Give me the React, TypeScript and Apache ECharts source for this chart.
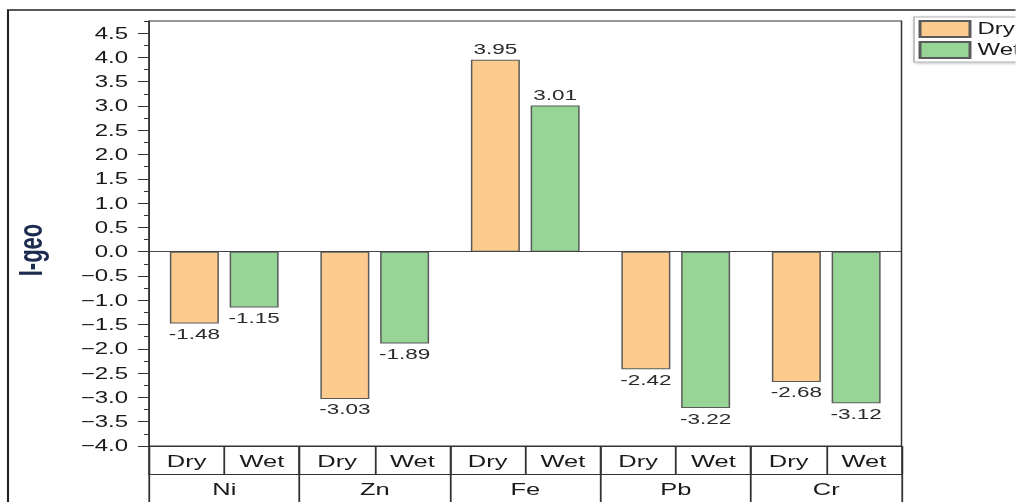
import React, { useEffect, useRef } from 'react';
import * as echarts from 'echarts';

// The reference picture is stretched horizontally; the chart is drawn at native
// width and widened with a CSS scaleX so that texts keep their stretched look.
const S = 1.5;
const W = 1016 / S;
const H = 502;

const elements = ['Ni', 'Zn', 'Fe', 'Pb', 'Cr'];
const seasons = ['Dry', 'Wet'];
const dryValues = [-1.48, -3.03, 3.95, -2.42, -2.68];
const wetValues = [-1.15, -1.89, 3.01, -3.22, -3.12];
const yTickValues = [-4, -3.5, -3, -2.5, -2, -1.5, -1, -0.5, 0, 0.5, 1, 1.5, 2, 2.5, 3, 3.5, 4, 4.5];
const yMin = -4;
const yMax = 4.75;
const yName = 'I-geo';

const FONT = '"Liberation Sans", Arial, sans-serif';
const LINE = '#333';
const TEXT = '#1a1a1a';

export default function App() {
  const ref = useRef<HTMLDivElement>(null);

  useEffect(() => {
    const chart = echarts.init(ref.current as HTMLDivElement, null, { renderer: 'svg' });
    const subCats = elements.flatMap(() => seasons);
    const toItems = (vals: number[]) =>
      vals.map((v) => ({ value: v, label: { position: v < 0 ? 'bottom' : 'top' } }));
    const gridLeft = 149 / S;
    const gridRight = W - 902 / S;

    chart.setOption({
      animation: false,
      textStyle: { fontFamily: FONT },
      grid: {
        left: gridLeft,
        right: gridRight,
        top: 21,
        bottom: 56,
        show: true,
        borderColor: LINE,
        borderWidth: 1,
        backgroundColor: 'transparent',
      },
      legend: {
        show: true,
        orient: 'vertical',
        left: 914 / S,
        top: 17,
        itemWidth: 50 / S,
        itemHeight: 16,
        itemGap: 3,
        padding: [3, 3, 3, 3],
        borderColor: '#b0b0b0',
        borderWidth: 1,
        backgroundColor: '#fff',
        shadowBlur: 3,
        shadowColor: 'rgba(0,0,0,0.25)',
        shadowOffsetX: 1,
        shadowOffsetY: 1,
        icon: 'rect',
        textStyle: { fontSize: 16, color: TEXT, fontFamily: FONT },
        data: seasons,
      },
      xAxis: [
        {
          type: 'category',
          data: elements,
          position: 'bottom',
          axisLine: { show: true, onZero: false, lineStyle: { color: LINE, width: 1 } },
          axisTick: { show: true, interval: 0, length: 70, lineStyle: { color: LINE, width: 1.2 } },
          axisLabel: { interval: 0, margin: 35, fontSize: 17, color: TEXT, fontFamily: FONT },
          splitLine: { show: false },
        },
        {
          type: 'category',
          data: subCats,
          position: 'bottom',
          axisLine: { show: false, onZero: false },
          axisTick: { show: true, interval: 0, length: 28, lineStyle: { color: LINE, width: 1.2 } },
          axisLabel: { interval: 0, margin: 7, fontSize: 17, color: TEXT, fontFamily: FONT },
          splitLine: { show: false },
        },
        {
          type: 'category',
          data: subCats,
          position: 'bottom',
          offset: 28,
          axisLine: { show: true, onZero: false, lineStyle: { color: LINE, width: 1 } },
          axisTick: { show: false },
          axisLabel: { show: false },
          splitLine: { show: false },
        },
      ],
      yAxis: [
        {
          type: 'value',
          min: yMin,
          max: yMax,
          interval: 0.5,
          position: 'left',
          axisLine: { show: true, onZero: false, lineStyle: { color: LINE, width: 1 } },
          axisTick: {
            show: true,
            length: 11 / S,
            customValues: yTickValues,
            lineStyle: { color: LINE, width: 1 },
          },
          axisLabel: {
            customValues: yTickValues,
            margin: 14,
            fontSize: 16,
            color: TEXT,
            fontFamily: FONT,
            formatter: (v: number) =>
              v > 4.6 ? '' : (v < 0 ? '\u2212' : '') + Math.abs(v).toFixed(1),
          },
          splitLine: { show: false },
        },
        {
          type: 'value',
          min: yMin,
          max: yMax,
          interval: 0.25,
          position: 'left',
          axisLine: { show: false },
          axisTick: { show: true, length: 5 / S, lineStyle: { color: LINE, width: 1 } },
          axisLabel: { show: false },
          splitLine: { show: false },
        },
      ],
      series: [
        {
          type: 'bar',
          name: seasons[0],
          xAxisIndex: 0,
          yAxisIndex: 0,
          data: toItems(dryValues),
          barWidth: 49 / S,
          barGap: '22%',
          itemStyle: { color: '#FDCB8E', borderColor: '#5a5a5a', borderWidth: 1 },
          label: { show: true, distance: 3, fontSize: 15, color: '#2a2a2a', fontFamily: FONT },
          markLine: {
            silent: true,
            symbol: ['none', 'none'],
            label: { show: false },
            lineStyle: { color: '#444', width: 1, type: 'solid' },
            data: [{ yAxis: 0 }],
          },
        },
        {
          type: 'bar',
          name: seasons[1],
          xAxisIndex: 0,
          yAxisIndex: 0,
          data: toItems(wetValues),
          barWidth: 49 / S,
          barGap: '22%',
          itemStyle: { color: '#97D597', borderColor: '#5a5a5a', borderWidth: 1 },
          label: { show: true, distance: 3, fontSize: 15, color: '#2a2a2a', fontFamily: FONT },
        },
      ],
      graphic: [
        {
          type: 'rect',
          silent: true,
          z: -10,
          shape: { x: 8 / S, y: 10, width: W + 20, height: H + 20 },
          style: { fill: 'none', stroke: '#222', lineWidth: 1.4 },
        },
        {
          type: 'text',
          silent: true,
          x: 31 / S,
          y: 250,
          rotation: Math.PI / 2,
          style: {
            text: yName,
            font: `bold 22px ${FONT}`,
            fill: '#1c2b4f',
            textAlign: 'center',
            textVerticalAlign: 'middle',
            align: 'center',
            verticalAlign: 'middle',
          },
        },
      ],
    });

    return () => {
      chart.dispose();
    };
  }, []);

  return (
    <div
      style={{
        position: 'absolute',
        left: 0,
        top: 0,
        width: 1016,
        height: H,
        overflow: 'hidden',
        background: '#fff',
      }}
    >
      <div
        ref={ref}
        style={{
          width: W,
          height: H,
          transform: `scaleX(${S})`,
          transformOrigin: '0 0',
        }}
      />
    </div>
  );
}
